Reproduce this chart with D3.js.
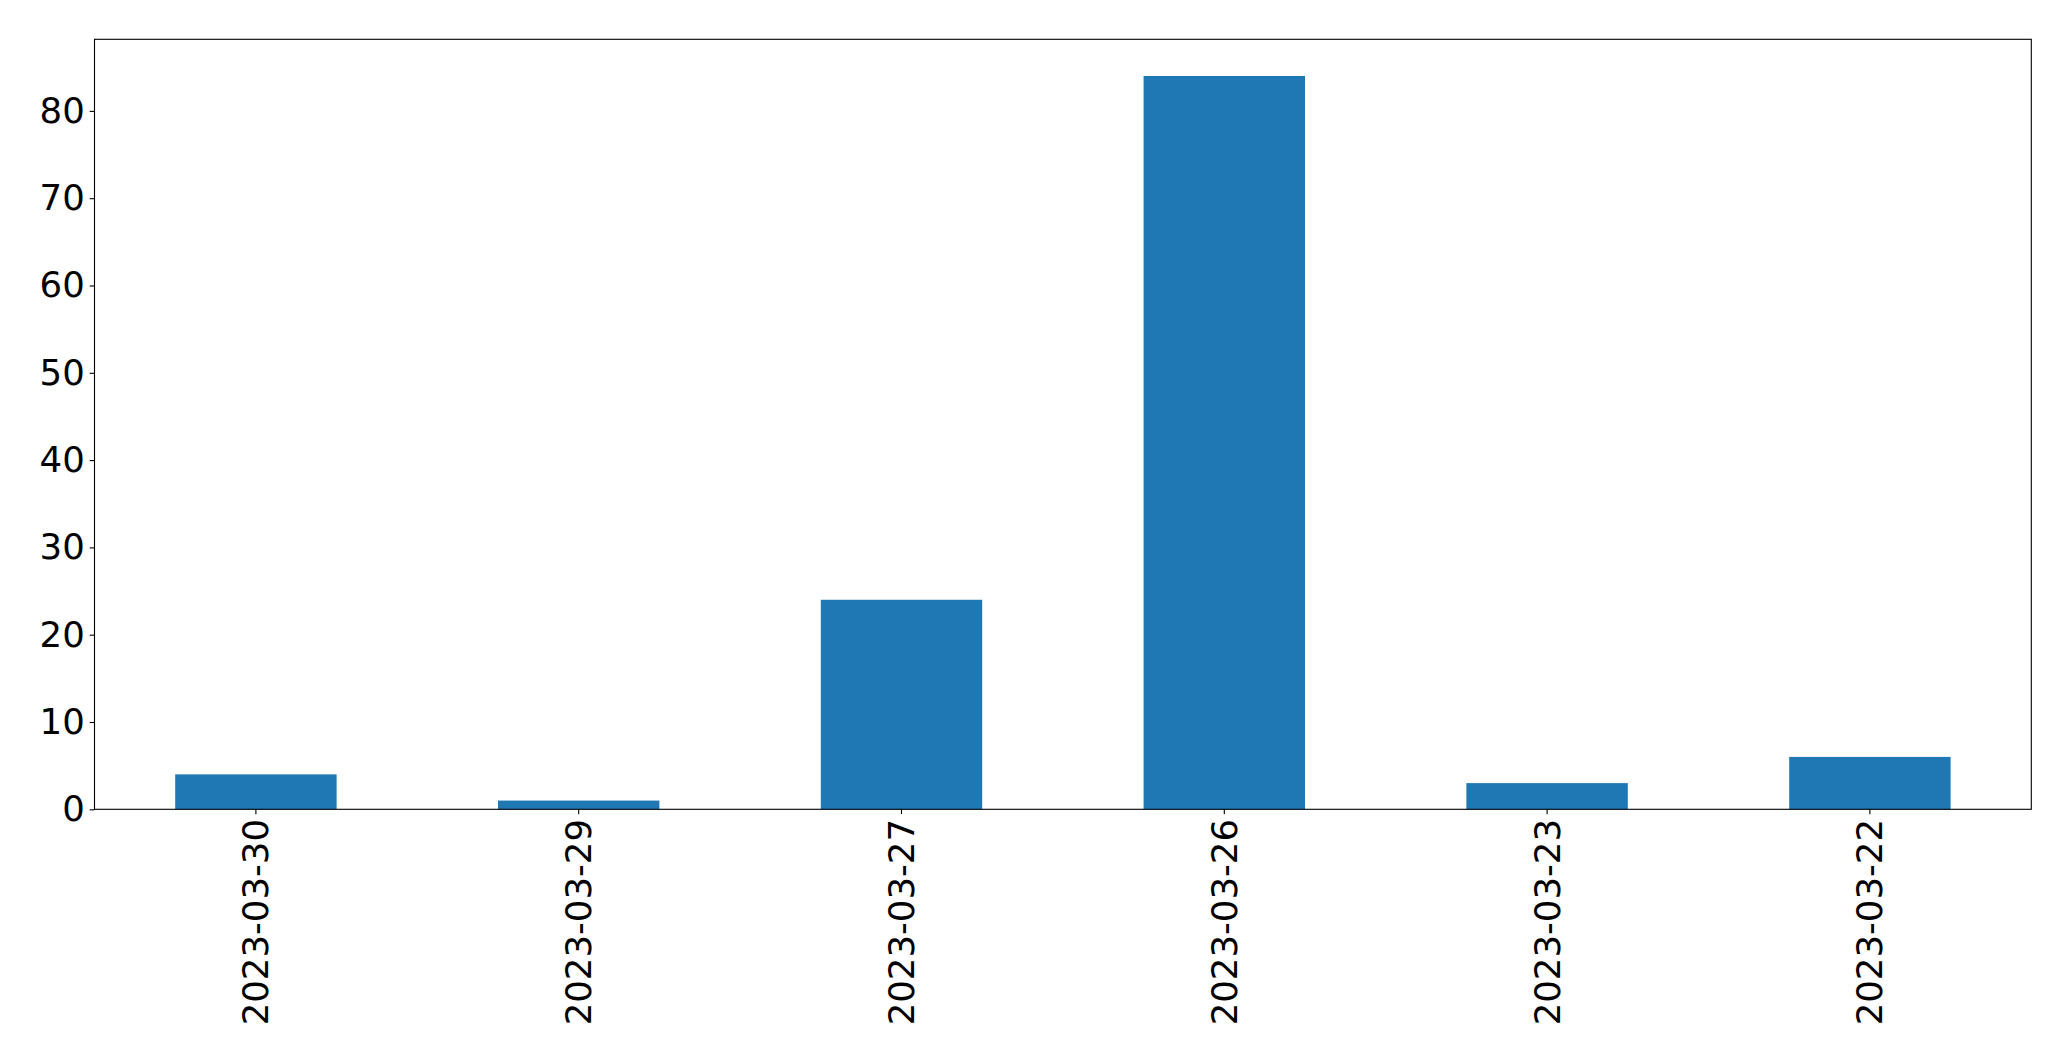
<!DOCTYPE html>
<html>
<head>
<meta charset="utf-8">
<script src="https://cdn.jsdelivr.net/npm/d3@7"></script>
<style>
  body { margin: 0; background: #fff; }
  svg { display: block; }
  .tick text { font-family: "DejaVu Sans", sans-serif; font-size: 35.5px; fill: #000; }
</style>
</head>
<body>
<div id="chart"></div>
<script>
// data
const dates = ["2023-03-30", "2023-03-29", "2023-03-27", "2023-03-26", "2023-03-23", "2023-03-22"];
const counts = [4, 1, 24, 84, 3, 6];
const yTicks = [0, 10, 20, 30, 40, 50, 60, 70, 80];

// layout
var W = 2071, H = 1061;
var margin = {top: 39.3, right: 2071 - 2031.3, bottom: 1061 - 809.3, left: 94.5};
var width = W - margin.left - margin.right;
var height = H - margin.top - margin.bottom;

var svg = d3.select("#chart").append("svg")
  .attr("width", W)
  .attr("height", H)
  .append("g")
  .attr("transform", "translate(" + margin.left + "," + margin.top + ")");

var xScale = d3.scaleBand()
  .domain(dates)
  .range([0, width])
  .paddingInner(0.5)
  .paddingOuter(0.25);

var yMax = d3.max(counts) * 1.05;
var yScale = d3.scaleLinear()
  .domain([0, yMax])
  .range([height, 0]);

// bars
svg.selectAll(".bar")
  .data(counts)
  .enter().append("rect")
  .attr("class", "bar")
  .attr("x", function(d, i) { return xScale(dates[i]); })
  .attr("width", xScale.bandwidth())
  .attr("y", function(d) { return yScale(d); })
  .attr("height", function(d) { return height - yScale(d); })
  .attr("fill", "#1f77b4");

// axes
var tickLen = 4.86;

var yAxis = svg.append("g")
  .call(d3.axisLeft(yScale).tickValues(yTicks).tickSize(tickLen).tickPadding(4.86).tickFormat(d3.format("d")));
yAxis.select(".domain").remove();
yAxis.selectAll(".tick line").attr("stroke", "#000").attr("stroke-width", 1.1);

var xAxis = svg.append("g")
  .attr("transform", "translate(0," + height + ")")
  .call(d3.axisBottom(xScale).tickSize(tickLen).tickPadding(0));
xAxis.select(".domain").remove();
xAxis.selectAll(".tick line").attr("stroke", "#000").attr("stroke-width", 1.1);
xAxis.selectAll(".tick text")
  .attr("transform", "rotate(-90)")
  .attr("x", -(tickLen + 4.86))
  .attr("y", 0)
  .attr("dy", "0.35em")
  .style("text-anchor", "end");

// frame
svg.append("rect")
  .attr("x", 0).attr("y", 0)
  .attr("width", width).attr("height", height)
  .attr("fill", "none")
  .attr("stroke", "#000")
  .attr("stroke-width", 1.1);
</script>
</body>
</html>
